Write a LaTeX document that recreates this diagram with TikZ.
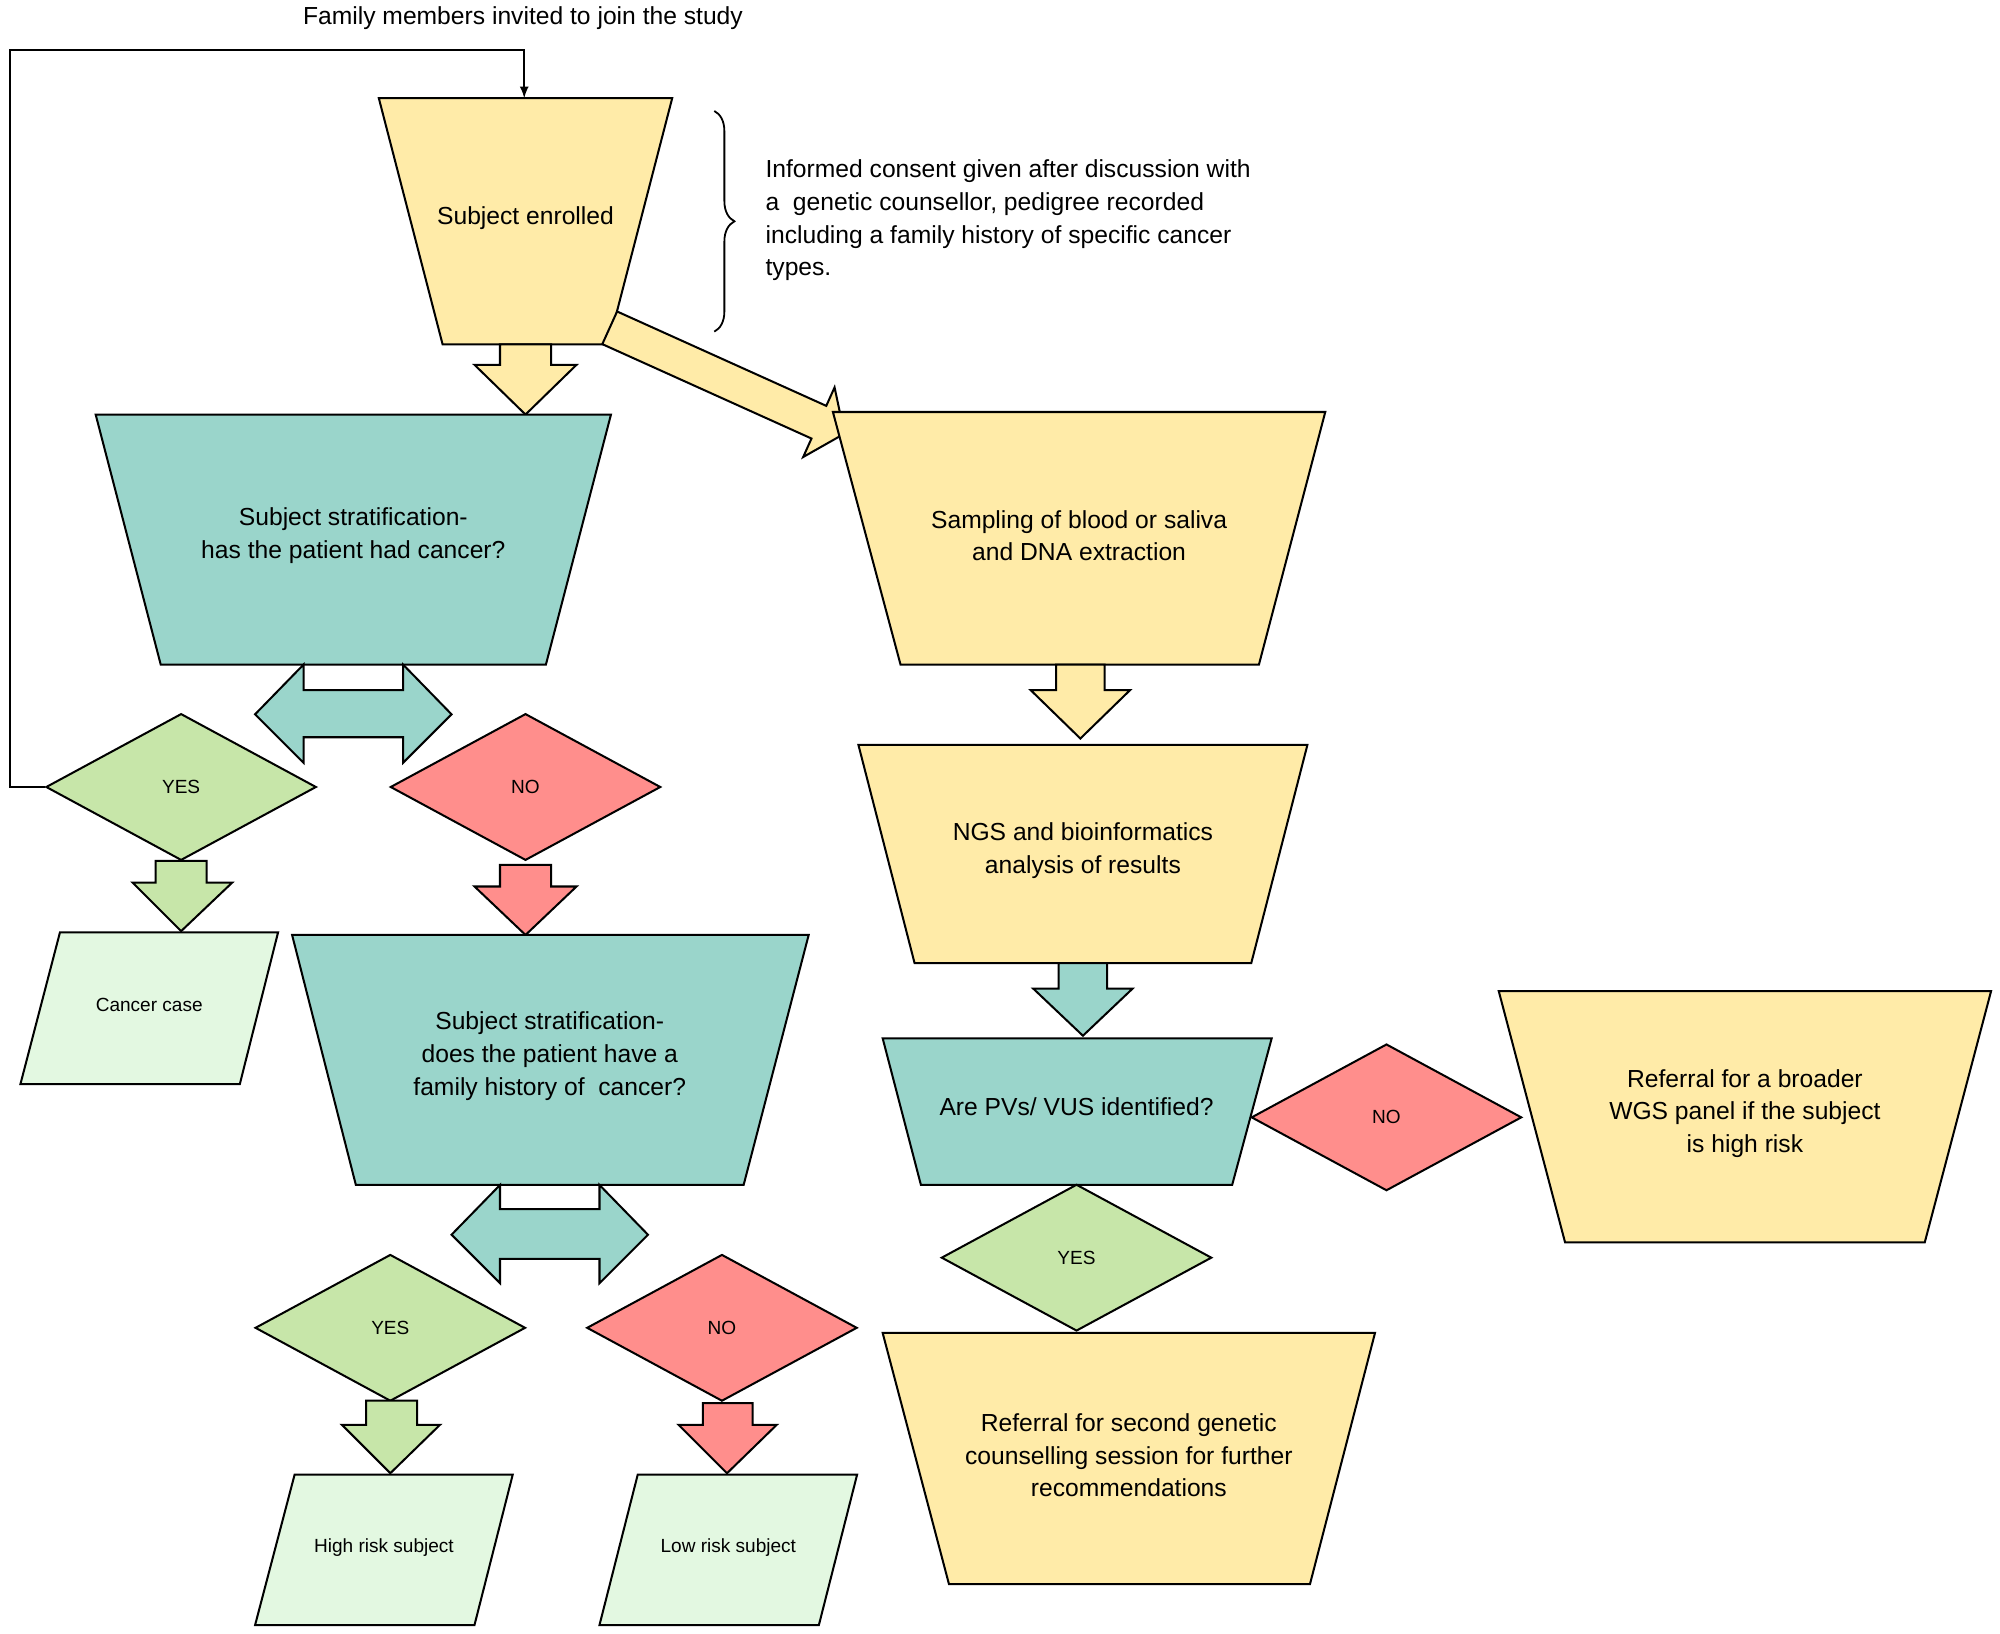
\documentclass[tikz,border=0pt]{standalone}
\usepackage{fontspec}
\setmainfont{Liberation Sans}
\usetikzlibrary{positioning}
\usetikzlibrary{calc}
\usetikzlibrary{shapes.geometric,decorations.pathreplacing}
\definecolor{yel}{HTML}{FFEBA8}
\definecolor{teal}{HTML}{9AD5CB}
\definecolor{grn}{HTML}{C7E6A9}
\definecolor{rd}{HTML}{FF8E8C}
\definecolor{pale}{HTML}{E3F8E1}

\begin{document}
\begin{tikzpicture}[x=0.02cm,y=-0.02cm]
\tikzstyle{box} =[draw=black,line width=0.9pt,line join=miter]
\tikzstyle{txt} =[align=center,font=\fontsize{11}{14.6}\selectfont]
\tikzstyle{small} =[font=\fontsize{8.5}{11}\selectfont]
\tikzstyle{yes} =[diamond,box,fill=grn,minimum width=4.24cm,minimum height=2.3cm,inner sep=0pt,small]
\tikzstyle{no} =[diamond,box,fill=rd,minimum width=4.24cm,minimum height=2.3cm,inner sep=0pt,small]
\useasboundingbox (0,0) rectangle (1568,1281);

% top title
\node[txt](title) at (410,14){Family members invited to join the study};

% enrolment
\draw[box,fill=yel] (297,77)--(527,77)--(477,270)--(347,270)--cycle;
\node[txt](enrol) at (412,171){Subject enrolled};
\coordinate (enroltop) at (411,77);
\draw[thick,decorate,decoration={brace,amplitude=9pt}] (560,87)--(560,260);
\node[txt,align=left,anchor=north west](consent) at (594,119){Informed consent given after discussion with\\a\ \ genetic counsellor, pedigree recorded\\including a family history of specific cancer\\types.};

% block arrows from enrolment
\draw[box,fill=yel] (392,270)--(432,270)--(432,286)--(452,286)--(412,325)--(372,286)--(392,286)--cycle;
\draw[box,fill=yel] (483.8,244.2)--(647.8,318.2)--(654.3,303.7)--(662,340)--(629.7,358.3)--(636.2,343.8)--(472.2,269.8)--cycle;

% stratification 1
\draw[box,fill=teal] (75,325)--(479,325)--(428,521)--(126,521)--cycle;
\node[txt](strat1) at (277,420){Subject stratification-\\has the patient had cancer?};
\draw[box,fill=teal] (200,560)--(238,521)--(238,541)--(316,541)--(316,521)--(354,560)--(316,598)--(316,578)--(238,578)--(238,598)--cycle;
\node[yes](yes1) at (142,617){YES};
\node[no](no1) at (412,617){NO};
\draw[box,fill=grn] (122,675)--(162,675)--(162,692)--(182,692)--(142,730)--(104,692)--(122,692)--cycle;
\draw[box,fill=rd] (392,678)--(432,678)--(432,695)--(452,695)--(412,733)--(372,695)--(392,695)--cycle;
\draw[box,fill=pale] (47,731)--(218,731)--(188,850)--(16,850)--cycle;
\node[small](case) at (117,788){Cancer case};

% loop back to enrolment
\coordinate (c1) at (8,617);
\coordinate (c2) at (8,39);
\coordinate (c3) at (411,39);
\draw[thick,-latex] (yes1.west)--(c1)--(c2)--(c3)--(enroltop);

% stratification 2
\draw[box,fill=teal] (229,733)--(634,733)--(583,929)--(279,929)--cycle;
\node[txt](strat2) at (431,828){Subject stratification-\\does the patient have a\\family history of\ \ cancer?};
\draw[box,fill=teal] (354,968)--(392,929)--(392,948)--(470,948)--(470,929)--(508,968)--(470,1006)--(470,987)--(392,987)--(392,1006)--cycle;
\node[yes](yes2) at (306,1041){YES};
\node[no](no2) at (566,1041){NO};
\draw[box,fill=grn] (287,1098)--(327,1098)--(327,1117)--(345,1117)--(306,1155)--(268,1117)--(287,1117)--cycle;
\draw[box,fill=rd] (551,1100)--(590,1100)--(590,1117)--(609,1117)--(570,1155)--(532,1117)--(551,1117)--cycle;
\draw[box,fill=pale] (231,1156)--(402,1156)--(372,1274)--(200,1274)--cycle;
\node[small](high) at (301,1213){High risk subject};
\draw[box,fill=pale] (500,1156)--(672,1156)--(642,1274)--(470,1274)--cycle;
\node[small](low) at (571,1213){Low risk subject};

% laboratory branch
\draw[box,fill=yel] (653,323)--(1039,323)--(987,521)--(706,521)--cycle;
\node[txt](sample) at (846,420){Sampling of blood or saliva\\and DNA extraction};
\draw[box,fill=yel] (828,521)--(866,521)--(866,541)--(886,541)--(847,579)--(808,541)--(828,541)--cycle;
\draw[box,fill=yel] (673,584)--(1025,584)--(981,755)--(717,755)--cycle;
\node[txt](ngs) at (849,667){NGS and bioinformatics\\analysis of results};
\draw[box,fill=teal] (830,755)--(868,755)--(868,775)--(888,775)--(849,812)--(810,775)--(830,775)--cycle;
\draw[box,fill=teal] (692,814)--(997,814)--(966,929)--(722,929)--cycle;
\node[txt](pv) at (844,868){Are PVs/ VUS identified?};
\node[no](no3) at (1087,876){NO};
\draw[box,fill=yel] (1175,777)--(1561,777)--(1509,974)--(1227,974)--cycle;
\node[txt](wgs) at (1368,873){Referral for a broader\\WGS panel if the subject\\is high risk};
\node[yes](yes3) at (844,986){YES};
\draw[box,fill=yel] (692,1045)--(1078,1045)--(1027,1242)--(744,1242)--cycle;
\node[txt](second) at (885,1141){Referral for second genetic\\counselling session for further\\recommendations};
\end{tikzpicture}
\end{document}
